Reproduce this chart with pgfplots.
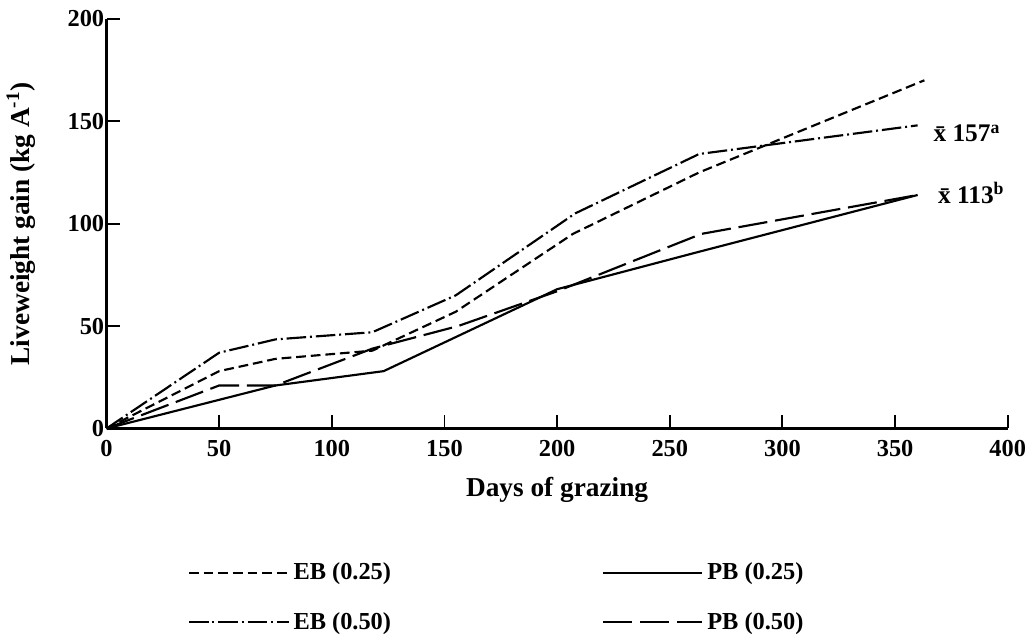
\documentclass[border=0pt]{standalone}
\usepackage{fontspec}
\setmainfont{Liberation Serif}
\usepackage{pgfplots}
\pgfplotsset{compat=1.18}

\begin{document}
\begin{tikzpicture}
\begin{axis}[
    scale only axis,
    width=462pt, height=210pt,
    xmin=0, xmax=400, ymin=0, ymax=200,
    axis lines=left,
    axis line style={-, line width=1.2pt},
    xtick={0,50,...,400}, ytick={0,50,...,200},
    tick align=inside,
    major tick length=7pt,
    tick style={line width=1pt, black},
    /pgf/number format/assume math mode=true,
    tick label style={font=\bfseries\fontsize{12.5}{14}\selectfont, inner sep=1pt},
    xticklabel style={yshift=-5pt},
    xlabel={Days of grazing},
    ylabel={Liveweight gain (kg A\textsuperscript{-1})},
    label style={font=\bfseries\fontsize{14}{16}\selectfont},
    xlabel style={yshift=-6pt},
    ylabel style={yshift=12pt},
    clip=false,
    legend columns=2,
    legend cell align=left,
    legend image code/.code={\draw[#1] (0pt,0pt) -- (51pt,0pt);},
    legend style={draw=none, fill=none, at={(0.09,-0.318)}, anchor=north west,
        font=\bfseries\fontsize{12.5}{14}\selectfont, inner sep=0pt,
        row sep=11pt,
        /tikz/every even column/.append style={column sep=106pt}},
]
% EB (0.25)
\addplot[black, line width=1.1pt, dash pattern=on 5pt off 2.5pt] coordinates {
    (0,0) (50,28) (75,34) (118,38) (155,57) (207,95) (263,125) (363,170)
};
\addlegendentry{EB (0.25)}
% PB (0.25)
\addplot[black, line width=1.1pt] coordinates {
    (0,0) (50,14) (75,21) (123,28) (200,68) (262,86) (360,114)
};
\addlegendentry{PB (0.25)}
% EB (0.50)
\addplot[black, line width=1.1pt, dash pattern=on 10pt off 2pt on 1pt off 2pt] coordinates {
    (0,0) (50,37) (75,43.5) (118,47) (155,65) (208,105) (263,134) (360,148)
};
\addlegendentry{EB (0.50)}
% PB (0.50)
\addplot[black, line width=1.1pt, dash pattern=on 15pt off 4pt] coordinates {
    (0,0) (50,21) (75,21) (118,39) (156,50) (200,67) (264,95) (360,114)
};
\addlegendentry{PB (0.50)}

\node[anchor=west, font=\bfseries\fontsize{13}{15}\selectfont] at (axis cs:364,144) {\=x 157\textsuperscript{a}};
\node[anchor=west, font=\bfseries\fontsize{13}{15}\selectfont] at (axis cs:366,115) {\=x 113\textsuperscript{b}};
% margins above the axis and below the legend
\path (rel axis cs:0.5,1.046);
\path (rel axis cs:0.5,-0.525);
\end{axis}
\end{tikzpicture}
\end{document}
